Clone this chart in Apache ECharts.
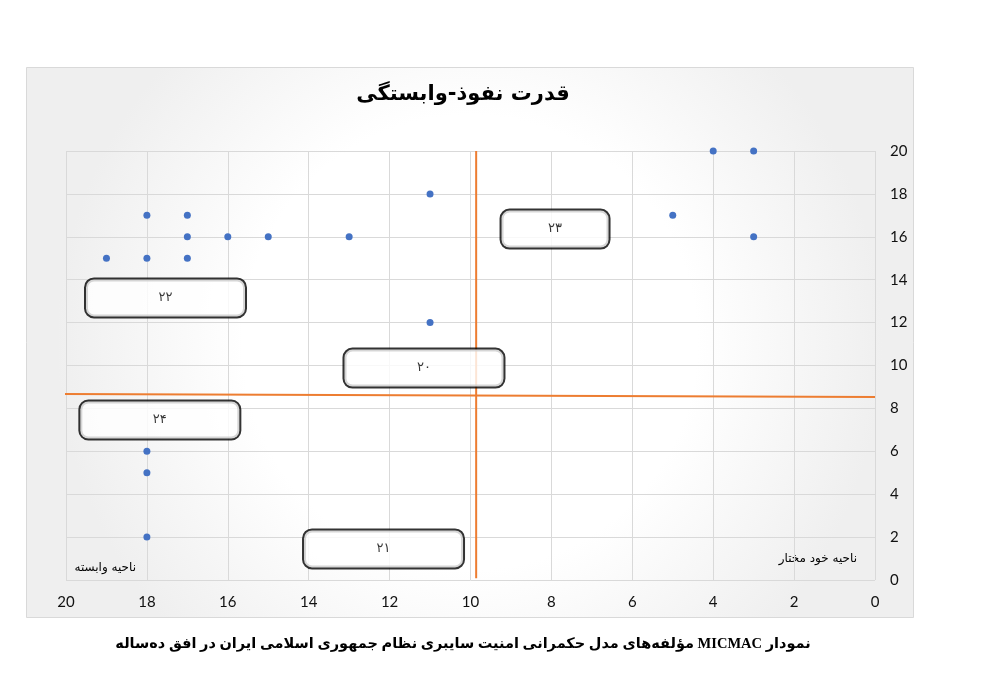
<!DOCTYPE html>
<html>
<head>
<meta charset="utf-8">
<script src="https://cdn.jsdelivr.net/npm/echarts@6/dist/echarts.min.js"></script>
<style>
  html, body { margin: 0; padding: 0; background: #fff; }
  #main { width: 983px; height: 691px; }
</style>
</head>
<body>
<div id="main" dir="rtl"></div>
<script>
// influence (y) vs dependence (x) of each component
var points = [
  [4, 20], [3, 20], [11, 18], [18, 17], [17, 17], [5, 17],
  [17, 16], [16, 16], [15, 16], [13, 16], [3, 16],
  [19, 15], [18, 15], [17, 15], [11, 12],
  [18, 6], [18, 5], [18, 2]
];
// quadrant dividers
var vLine = [[9.86, 20], [9.86, 0.08]];
var hLine = [[20.2, 8.67], [0, 8.53]];
// boxed notes: x, y, text
var notes = [
  [7.91, 16.36, '۲۳'],
  [17.54, 13.15, '۲۲'],
  [11.15, 9.88, '۲۰'],
  [17.68, 7.46, '۲۴'],
  [12.15, 1.45, '۲۱']
];
var axisTicks = { min: 0, max: 20, interval: 2 };

var persian = "'DejaVu Sans', 'Noto Sans', sans-serif";

var myChart = echarts.init(document.getElementById('main'));
var option = {
  animation: false,
  graphic: [{
    type: 'rect',
    z: -100,
    shape: { x: 26.5, y: 67.5, width: 887, height: 550 },
    style: {
      fill: {
        type: 'radial', x: 0.5, y: 0.5, r: 0.75,
        colorStops: [{ offset: 0, color: '#ffffff' }, { offset: 0.55, color: '#ffffff' }, { offset: 1, color: '#efefef' }]
      },
      stroke: '#d9d9d9',
      lineWidth: 1
    }
  }, {
    type: 'text',
    x: 463, y: 95,
    style: {
      text: 'قدرت نفوذ-وابستگی',
      font: 'bold 21px ' + persian,
      fill: '#000',
      align: 'center',
      verticalAlign: 'middle'
    }
  }, {
    type: 'text',
    x: 136, y: 568,
    style: {
      text: 'ناحیه وابسته',
      font: '12px ' + persian,
      fill: '#000',
      align: 'right',
      verticalAlign: 'middle'
    }
  }, {
    type: 'text',
    x: 857, y: 559,
    style: {
      text: 'ناحیه خود مختار',
      font: '12px ' + persian,
      fill: '#000',
      align: 'right',
      verticalAlign: 'middle'
    }
  }, {
    type: 'text',
    x: 463, y: 644,
    style: {
      text: 'نمودار MICMAC مؤلفه\u200cهای مدل حکمرانی امنیت سایبری نظام جمهوری اسلامی ایران در افق ده\u200cساله',
      font: "bold 14.5px 'Liberation Serif', 'DejaVu Sans', serif",
      fill: '#000',
      align: 'center',
      verticalAlign: 'middle'
    }
  }],
  grid: {
    left: 66,
    right: 108,
    top: 151,
    bottom: 111
  },
  xAxis: {
    type: 'value',
    inverse: true,
    min: axisTicks.min,
    max: axisTicks.max,
    interval: axisTicks.interval,
    axisLine: { show: false },
    axisTick: { show: false },
    axisLabel: {
      color: '#111',
      fontSize: 15,
      fontFamily: 'Lato',
      margin: 15
    },
    splitLine: {
      lineStyle: { color: '#d9d9d9' }
    }
  },
  yAxis: {
    type: 'value',
    position: 'right',
    min: axisTicks.min,
    max: axisTicks.max,
    interval: axisTicks.interval,
    axisLine: { show: false },
    axisTick: { show: false },
    axisLabel: {
      color: '#111',
      fontSize: 15,
      fontFamily: 'Lato',
      margin: 15
    },
    splitLine: {
      lineStyle: { color: '#d9d9d9' }
    }
  },
  series: [{
    type: 'line',
    data: vLine,
    symbol: 'none',
    clip: false,
    z: 3,
    lineStyle: { color: '#ED7D31', width: 2 }
  }, {
    type: 'line',
    data: hLine,
    symbol: 'none',
    clip: false,
    z: 3,
    lineStyle: { color: '#ED7D31', width: 2 }
  }, {
    type: 'scatter',
    data: points,
    symbolSize: 7,
    z: 4,
    itemStyle: { color: '#4472C4', opacity: 1 }
  }, {
    type: 'scatter',
    symbolSize: 1,
    silent: true,
    z: 5,
    data: notes.map(function (n) {
      return { value: [n[0], n[1]], name: n[2] };
    }),
    label: {
      show: true,
      position: 'inside',
      textBorderWidth: 0,
      textShadowBlur: 0,
      formatter: function (p) {
        return '{b|' + p.name + '}';
      },
      rich: {
        b: {
          width: 159,
          height: 37,
          lineHeight: 37,
          align: 'center',
          backgroundColor: '#fff',
          borderColor: '#000',
          borderWidth: 2,
          borderRadius: 8,
          textBorderWidth: 0,
          fontFamily: persian,
          fontSize: 13,
          color: '#000'
        }
      }
    },
    itemStyle: { color: 'rgba(0,0,0,0)' }
  }]
};
// the top-right note box is narrower
option.series[3].data[0].label = {
  rich: { b: { width: 107 } }
};
myChart.setOption(option);

window.addEventListener('resize', function () {
  myChart.resize();
});
</script>
</body>
</html>
